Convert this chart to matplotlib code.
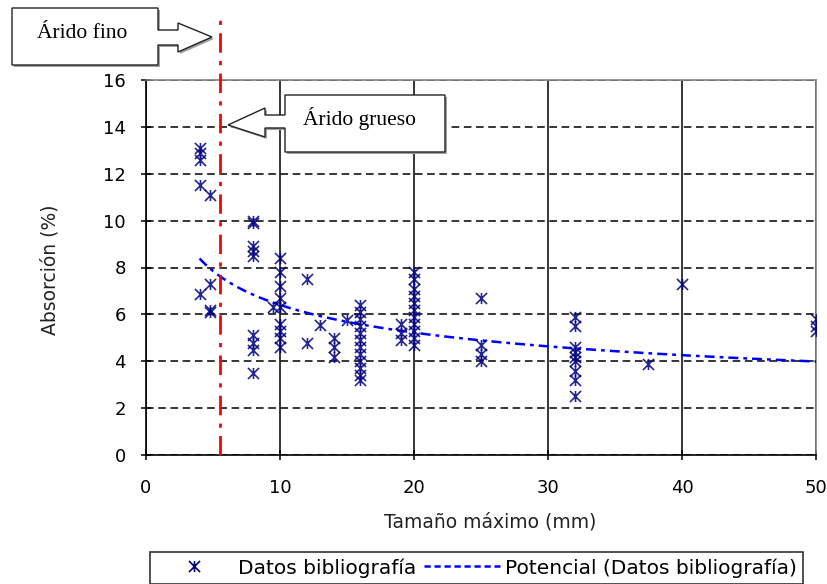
import numpy as np
import matplotlib.pyplot as plt
from matplotlib.path import Path
from matplotlib.patches import Polygon
from matplotlib.lines import Line2D

plt.rcParams['font.family'] = ['DejaVu Sans']

# datos bibliografia: tamano maximo (mm) y absorcion (%)
tam_4 = [4, 4, 4, 4, 4]
abs_4 = [13.1, 12.9, 12.6, 11.5, 6.85]
tam_475 = [4.75, 4.75, 4.75, 4.75]
abs_475 = [11.1, 7.3, 6.2, 6.1]
tam_8 = [8] * 9
abs_8 = [10.0, 9.9, 8.9, 8.7, 8.5, 5.1, 4.8, 4.5, 3.5]
tam_95 = [9.5]
abs_95 = [6.3]
tam_10 = [10] * 9
abs_10 = [8.4, 7.8, 7.2, 6.7, 6.3, 5.6, 5.3, 5.0, 4.6]
tam_12 = [12, 12]
abs_12 = [7.5, 4.8]
tam_13 = [13]
abs_13 = [5.55]
tam_14 = [14, 14, 14]
abs_14 = [5.0, 4.6, 4.2]
tam_15 = [15]
abs_15 = [5.75]
tam_16 = [16] * 12
abs_16 = [6.4, 6.1, 5.8, 5.5, 5.2, 4.9, 4.6, 4.3, 4.0, 3.7, 3.4, 3.2]
tam_19 = [19, 19, 19]
abs_19 = [5.6, 5.2, 4.9]
tam_20 = [20] * 11
abs_20 = [7.8, 7.5, 7.1, 6.8, 6.5, 6.2, 5.9, 5.6, 5.3, 5.0, 4.7]
tam_25 = [25, 25, 25, 25]
abs_25 = [6.7, 4.7, 4.3, 4.0]
tam_32 = [32] * 9
abs_32 = [5.9, 5.5, 4.6, 4.4, 4.2, 4.0, 3.6, 3.2, 2.5]
tam_375 = [37.5]
abs_375 = [3.9]
tam_40 = [40]
abs_40 = [7.3]
tam_50 = [50, 50, 50]
abs_50 = [5.8, 5.5, 5.3]

tamano = np.array(tam_4 + tam_475 + tam_8 + tam_95 + tam_10 + tam_12 + tam_13 + tam_14 + tam_15
                  + tam_16 + tam_19 + tam_20 + tam_25 + tam_32 + tam_375 + tam_40 + tam_50, dtype=float)
absorcion = np.array(abs_4 + abs_475 + abs_8 + abs_95 + abs_10 + abs_12 + abs_13 + abs_14 + abs_15
                     + abs_16 + abs_19 + abs_20 + abs_25 + abs_32 + abs_375 + abs_40 + abs_50, dtype=float)

# linea de potencia y = a * x^b (tendencia de Excel)
pot_a = 12.6
pot_b = -0.294
pot_xmin = 4
pot_xmax = 50

limite_fino = 5.5  # limite arido fino / grueso

W, H = 828, 584

# marcador estrella de Excel: x con barra vertical
star = Path([(-1, -1), (1, 1), (-1, 1), (1, -1), (0, -1), (0, 1)],
            [Path.MOVETO, Path.LINETO, Path.MOVETO, Path.LINETO, Path.MOVETO, Path.LINETO])

fig = plt.figure(figsize=(W / 100, H / 100), dpi=100)
ax = fig.add_axes([146 / W, 1 - 455 / H, 670 / W, 375 / H])

ax.plot(tamano, absorcion, linestyle='none', marker=star, markersize=8,
        markeredgecolor='#000080', markeredgewidth=1.2, alpha=0.85, zorder=4)

xs = np.linspace(pot_xmin, pot_xmax, 200)
ax.plot(xs, pot_a * xs ** pot_b, color='#0000ff', linewidth=1.8,
        linestyle=(0, (4, 2, 1.5, 2)), zorder=3)

ax.plot([limite_fino, limite_fino], [0, 18.85], color='#ff0000', linewidth=2,
        linestyle=(0, (7, 3, 1.5, 3)), clip_on=False, zorder=5)

ax.set_xlim(0, 50)
ax.set_ylim(0, 16)
ax.set_xticks(np.arange(0, 51, 10))
ax.set_yticks(np.arange(0, 17, 2))
ax.grid(axis='y', color='black', linestyle=(0, (5, 3)), linewidth=1.1)
ax.grid(axis='x', color='black', linestyle='-', linewidth=1.1)
ax.set_axisbelow(True)
ax.tick_params(direction='inout', length=7, width=1.1, labelsize=13)
ax.tick_params(axis='x', pad=14)
ax.tick_params(axis='y', pad=11)
for s in ['left', 'bottom']:
    ax.spines[s].set_linewidth(1.2)
for s in ['top', 'right']:
    ax.spines[s].set_color('#808080')
    ax.spines[s].set_linewidth(1.2)

fig.text(50 / W, 1 - 270 / H, 'Absorción (%)', rotation=90, ha='center', va='center',
         fontsize=13.5, color='#222222')
fig.text(490 / W, 1 - 522 / H, 'Tamaño máximo (mm)', ha='center', va='center',
         fontsize=13.5, color='#222222')

h1 = Line2D([], [], linestyle='none', marker=star, markersize=8,
            markeredgecolor='#000080', markeredgewidth=1.2)
h2 = Line2D([], [], color='#0000ff', linewidth=1.8, linestyle=(0, (2.5, 1.5)))
leg = fig.legend([h1, h2], ['Datos bibliografía', 'Potencial (Datos bibliografía)'],
                 loc='upper left', bbox_to_anchor=(150 / W, 1 - 552 / H), borderaxespad=0,
                 ncol=2, fontsize=14.5, frameon=True, fancybox=False, edgecolor='black',
                 handlelength=3.8, handletextpad=0.25, columnspacing=0.4, borderpad=0.3)
leg.get_frame().set_linewidth(1.2)


def px(points):
    return [(x / W, 1 - y / H) for x, y in points]


callout_fino = [(12, 8), (158, 8), (158, 30), (178, 30), (178, 23), (212, 37), (178, 52),
                (178, 45), (158, 45), (158, 65), (12, 65)]
callout_grueso = [(285, 95), (445, 95), (445, 152), (285, 152), (285, 128), (265, 128),
                  (265, 137), (228, 125), (265, 108), (265, 115), (285, 115)]

for shape in [callout_fino, callout_grueso]:
    shadow = [(x + 2, y + 2) for x, y in shape]
    fig.patches.append(Polygon(px(shadow), closed=True, transform=fig.transFigure,
                               facecolor='#a0a0a0', edgecolor='none', zorder=5))
    fig.patches.append(Polygon(px(shape), closed=True, transform=fig.transFigure,
                               facecolor='white', edgecolor='#222222', linewidth=1.0, zorder=6))

fig.text(82 / W, 1 - 34 / H, 'Árido fino', ha='center', va='center', fontsize=15.5,
         family='Liberation Serif', zorder=7)
fig.text(360 / W, 1 - 119 / H, 'Árido grueso', ha='center', va='center', fontsize=15.5,
         family='Liberation Serif', zorder=7)

fig.savefig('out.png', dpi=100)
